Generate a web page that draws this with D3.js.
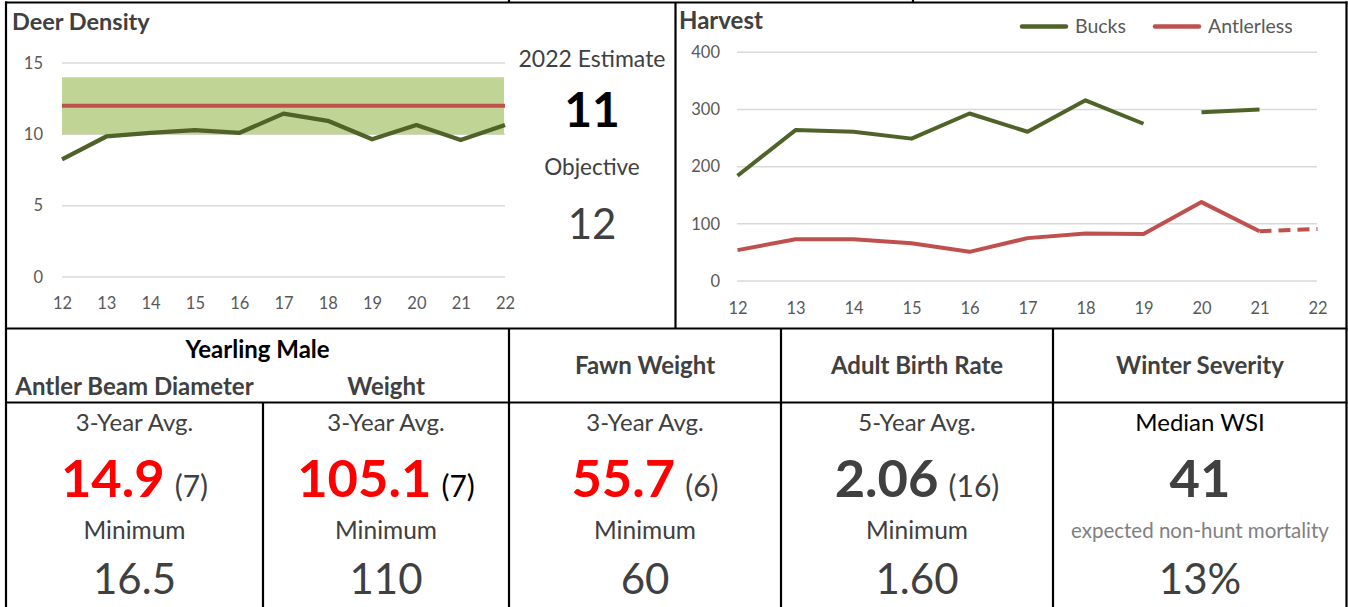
<!DOCTYPE html>
<html>
<head>
<meta charset="utf-8">
<script src="https://cdn.jsdelivr.net/npm/d3@7"></script>
<style>
  body { margin: 0; background: #fff; }
  svg { display: block; font-family: Lato, "Open Sans", sans-serif; }
</style>
</head>
<body>
<svg id="chart"></svg>
<script>
const years = [12, 13, 14, 15, 16, 17, 18, 19, 20, 21, 22];

// deer density panel
const densityValues = [8.25, 9.85, 10.1, 10.3, 10.1, 11.45, 10.95, 9.65, 10.65, 9.6, 10.65];
const densityObjective = 12;
const densityRange = [10, 14];
const densityTicks = [0, 5, 10, 15];
const estimateLabel = "2022 Estimate";
const estimateValue = "11";
const objectiveLabel = "Objective";
const objectiveValue = "12";

// harvest panel
const bucks = [184, 264, 261, 249, 293, 261, 316, 275, 295, 300, null];
const antlerless = [54, 73, 73, 66, 51, 75, 83, 82, 138, 87, 91];
const bucksGapAfter = 19;       // no line between 19 and 20
const antlerlessDashFrom = 21;  // 21 -> 22 is dashed
const harvestTicks = [0, 100, 200, 300, 400];
const harvestSeries = ["Bucks", "Antlerless"];

// table
const groupTitle = "Yearling Male";
const headers = ["Antler Beam Diameter", "Weight", "Fawn Weight", "Adult Birth Rate", "Winter Severity"];
const avgLabels = ["3-Year Avg.", "3-Year Avg.", "3-Year Avg.", "5-Year Avg.", "Median WSI"];
const avgValues = ["14.9", "105.1", "55.7", "2.06", "41"];
const sampleSizes = ["(7)", "(7)", "(6)", "(16)", ""];
const belowMinimum = [true, true, true, false, false];
const minLabels = ["Minimum", "Minimum", "Minimum", "Minimum", "expected non-hunt mortality"];
const minValues = ["16.5", "110", "60", "1.60", "13%"];

const GREEN = "#4F6228", RED = "#C0504D", BAND = "#C0D496";
const GRID = "#D9D9D9", DARK = "#404040", TICK = "#595959";

const W = 1348, H = 607;
const svg = d3.select("#chart").attr("width", W).attr("height", H);
svg.append("rect").attr("width", W).attr("height", H).attr("fill", "#fff");

function styleAxis(g, size) {
    g.select(".domain").remove();
    g.selectAll("line").remove();
    g.selectAll("text")
        .attr("fill", TICK)
        .style("font-size", size + "px")
        .style("font-family", "Lato, sans-serif");
}

function gridLines(g, y, ticks, x0, x1) {
    g.selectAll("line.grid")
        .data(ticks)
        .join("line")
        .attr("class", "grid")
        .attr("x1", x0).attr("x2", x1)
        .attr("y1", d => y(d)).attr("y2", d => y(d))
        .attr("stroke", GRID)
        .attr("stroke-width", 1.5);
}

// ---------- Deer Density ----------
function drawDensity() {
    const g = svg.append("g");
    const x = d3.scaleLinear().domain([12, 22]).range([62, 505]);
    const y = d3.scaleLinear().domain([0, 15]).range([277, 63]);

    g.append("text")
        .attr("x", 12).attr("y", 30)
        .attr("fill", DARK)
        .style("font-size", "23.5px").style("font-weight", 700)
        .text("Deer Density");

    gridLines(g, y, densityTicks, 62, 505);

    g.append("rect")
        .attr("x", x(12)).attr("width", x(22) - x(12) - 1)
        .attr("y", y(densityRange[1]))
        .attr("height", y(densityRange[0]) - y(densityRange[1]))
        .attr("fill", BAND);

    g.append("line")
        .attr("x1", x(12)).attr("x2", x(22))
        .attr("y1", y(densityObjective)).attr("y2", y(densityObjective))
        .attr("stroke", RED).attr("stroke-width", 4);

    g.append("path")
        .datum(years.map((yr, i) => [yr, densityValues[i]]))
        .attr("fill", "none")
        .attr("stroke", GREEN)
        .attr("stroke-width", 4.3)
        .attr("stroke-linejoin", "round")
        .attr("d", d3.line().x(d => x(d[0])).y(d => y(d[1])));

    g.append("g")
        .attr("transform", `translate(${x(12)},0)`)
        .call(d3.axisLeft(y).tickValues(densityTicks).tickSize(0).tickPadding(19))
        .call(a => styleAxis(a, 16.5));

    g.append("g")
        .attr("transform", `translate(0,${y(0)})`)
        .call(d3.axisBottom(x).tickValues(years).tickSize(0).tickPadding(20))
        .call(a => styleAxis(a, 16.5));

    const cx = 592;
    g.append("text").attr("x", cx).attr("y", 67).attr("text-anchor", "middle")
        .attr("fill", DARK).style("font-size", "23px").text(estimateLabel);
    g.append("text").attr("x", cx).attr("y", 127).attr("text-anchor", "middle")
        .attr("fill", "#000").style("font-size", "48px").style("font-weight", 700).text(estimateValue);
    g.append("text").attr("x", cx).attr("y", 175).attr("text-anchor", "middle")
        .attr("fill", DARK).style("font-size", "22.5px").text(objectiveLabel);
    g.append("text").attr("x", cx).attr("y", 239).attr("text-anchor", "middle")
        .attr("fill", DARK).style("font-size", "42px").text(objectiveValue);
}

// ---------- Harvest ----------
function drawHarvest() {
    const g = svg.append("g");
    const x = d3.scaleLinear().domain([12, 22]).range([737.5, 1317.5]);
    const y = d3.scaleLinear().domain([0, 400]).range([281, 52.3]);

    g.append("text")
        .attr("x", 679).attr("y", 29)
        .attr("fill", DARK)
        .style("font-size", "24px").style("font-weight", 700)
        .text("Harvest");

    gridLines(g, y, harvestTicks, 737, 1317);

    const line = d3.line()
        .defined(d => d[1] != null)
        .x(d => x(d[0])).y(d => y(d[1]));

    const bucksPts = years.map((yr, i) => [yr, bucks[i]]);
    const bucksParts = [
        bucksPts.filter(d => d[0] <= bucksGapAfter),
        bucksPts.filter(d => d[0] > bucksGapAfter)
    ];
    g.selectAll("path.bucks")
        .data(bucksParts)
        .join("path")
        .attr("class", "bucks")
        .attr("fill", "none")
        .attr("stroke", GREEN)
        .attr("stroke-width", 4)
        .attr("stroke-linejoin", "round")
        .attr("d", line);

    const antPts = years.map((yr, i) => [yr, antlerless[i]]);
    g.append("path")
        .datum(antPts.filter(d => d[0] <= antlerlessDashFrom))
        .attr("fill", "none")
        .attr("stroke", RED)
        .attr("stroke-width", 4)
        .attr("stroke-linejoin", "round")
        .attr("d", line);
    g.append("path")
        .datum(antPts.filter(d => d[0] >= antlerlessDashFrom))
        .attr("fill", "none")
        .attr("stroke", RED)
        .attr("stroke-width", 4)
        .attr("stroke-dasharray", "12,7")
        .attr("d", line);

    g.append("g")
        .attr("transform", `translate(${x(12)},0)`)
        .call(d3.axisLeft(y).tickValues(harvestTicks).tickSize(0).tickPadding(17.5))
        .call(a => styleAxis(a, 16.5));

    g.append("g")
        .attr("transform", `translate(0,${y(0)})`)
        .call(d3.axisBottom(x).tickValues(years).tickSize(0).tickPadding(21.5))
        .call(a => styleAxis(a, 16.5));

    // legend
    const legendX = [1020, 1153];
    const legend = g.selectAll("g.legend")
        .data(harvestSeries)
        .join("g")
        .attr("class", "legend")
        .attr("transform", (d, i) => `translate(${legendX[i]},26.5)`);
    legend.append("line")
        .attr("x1", 2).attr("x2", 46)
        .attr("stroke", (d, i) => i === 0 ? GREEN : RED)
        .attr("stroke-width", 4.5)
        .attr("stroke-linecap", "round");
    legend.append("text")
        .attr("x", 55).attr("y", 6.5)
        .attr("fill", TICK)
        .style("font-size", "19.5px")
        .text(d => d);
}

// ---------- Table ----------
function drawTable() {
    const g = svg.append("g");
    const edges = [6, 263, 509, 781, 1053, 1347];
    const centers = d3.range(5).map(i => (edges[i] + edges[i + 1]) / 2);

    g.append("text")
        .attr("x", (edges[0] + edges[2]) / 2).attr("y", 358)
        .attr("text-anchor", "middle")
        .attr("fill", "#000")
        .style("font-size", "24px").style("font-weight", 700)
        .text(groupTitle);

    g.selectAll("text.header")
        .data(headers)
        .join("text")
        .attr("class", "header")
        .attr("x", (d, i) => centers[i])
        .attr("y", (d, i) => i < 2 ? 395 : 374)
        .attr("text-anchor", "middle")
        .attr("fill", DARK)
        .style("font-size", "24px").style("font-weight", 700)
        .text(d => d);

    g.selectAll("text.avgLabel")
        .data(avgLabels)
        .join("text")
        .attr("class", "avgLabel")
        .attr("x", (d, i) => centers[i]).attr("y", 431)
        .attr("text-anchor", "middle")
        .attr("fill", (d, i) => i === 4 ? "#000" : DARK)
        .style("font-size", "24px")
        .text(d => d);

    avgValues.forEach((v, i) => {
        const grp = g.append("g");
        const big = grp.append("text")
            .attr("y", 497)
            .attr("fill", belowMinimum[i] ? "#FF0000" : DARK)
            .style("font-size", "52.5px").style("font-weight", 700)
            .text(v);
        let w = big.node().getComputedTextLength();
        if (sampleSizes[i]) {
            const small = grp.append("text")
                .attr("x", w + 10).attr("y", 497)
                .attr("fill", i === 1 ? "#000" : DARK)
                .style("font-size", "30px")
                .text(sampleSizes[i]);
            w += 10 + small.node().getComputedTextLength();
        }
        grp.attr("transform", `translate(${centers[i] - w / 2},0)`);
    });

    g.selectAll("text.minLabel")
        .data(minLabels)
        .join("text")
        .attr("class", "minLabel")
        .attr("x", (d, i) => centers[i])
        .attr("y", (d, i) => i === 4 ? 538 : 539)
        .attr("text-anchor", "middle")
        .attr("fill", (d, i) => i === 4 ? "#808080" : DARK)
        .style("font-size", (d, i) => i === 4 ? "20.5px" : "24.5px")
        .text(d => d);

    g.selectAll("text.minValue")
        .data(minValues)
        .join("text")
        .attr("class", "minValue")
        .attr("x", (d, i) => centers[i]).attr("y", 594)
        .attr("text-anchor", "middle")
        .attr("fill", DARK)
        .style("font-size", "42px")
        .text(d => d);

    // borders
    const rules = [
        [5, 2.5, 1347.5, 2.5],
        [6, 1.5, 6, H],
        [1346.5, 1.5, 1346.5, H],
        [675.5, 2.5, 675.5, 328.5],
        [5, 328.5, 1347.5, 328.5],
        [5, 402.5, 1347.5, 402.5],
        [509, 0, 509, 3],
        [913, 0, 913, 3],
        [263, 402.5, 263, H],
        [509, 328.5, 509, H],
        [781, 328.5, 781, H],
        [1053, 328.5, 1053, H]
    ];
    g.selectAll("line.rule")
        .data(rules)
        .join("line")
        .attr("class", "rule")
        .attr("x1", d => d[0]).attr("y1", d => d[1])
        .attr("x2", d => d[2]).attr("y2", d => d[3])
        .attr("stroke", "#000")
        .attr("stroke-width", 2.2);
}

drawDensity();
drawHarvest();
drawTable();
</script>
</body>
</html>
